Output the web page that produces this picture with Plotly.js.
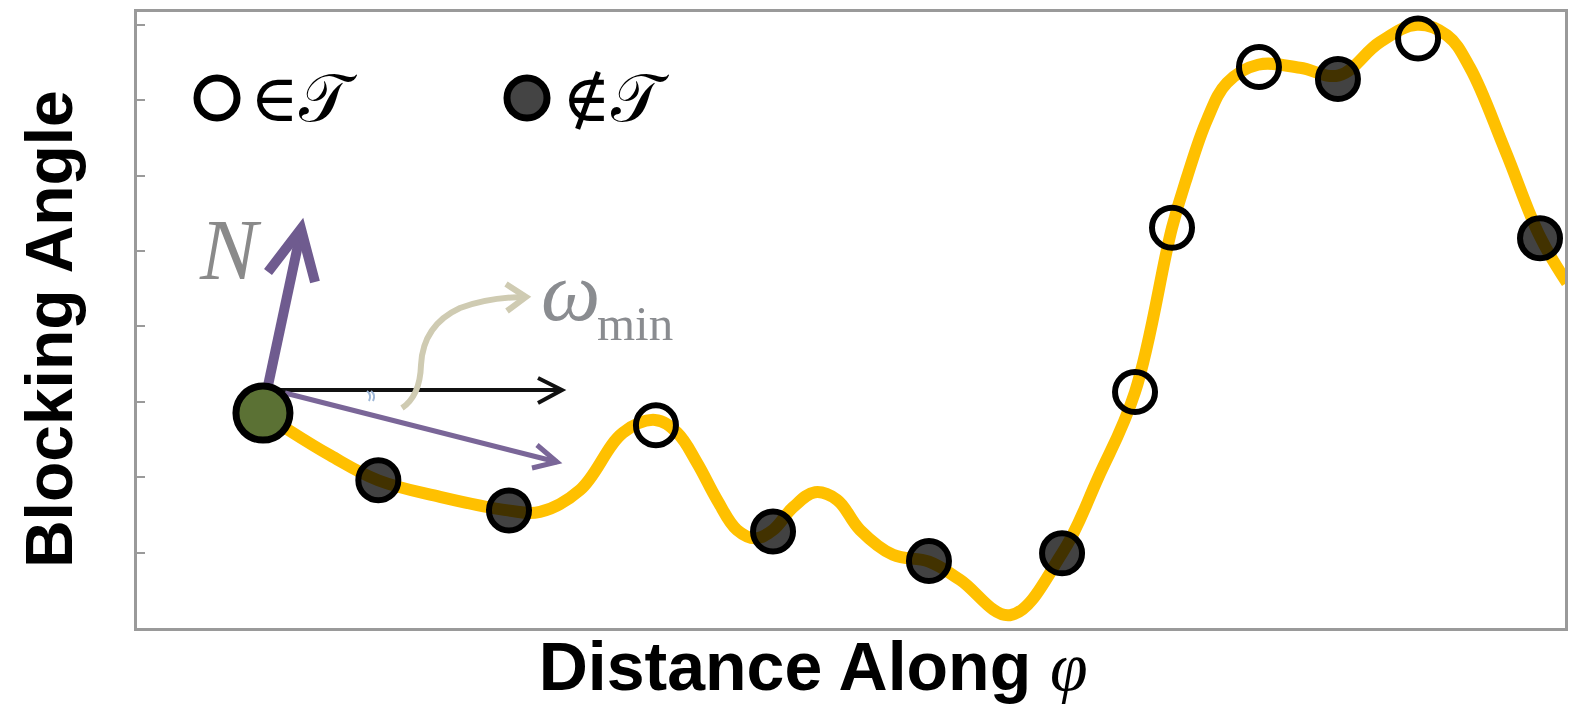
<!DOCTYPE html>
<html>
<head>
<meta charset="utf-8">
<script src="https://cdn.plot.ly/plotly-3.0.1.min.js"></script>
<style>html,body{margin:0;padding:0;background:#fff;}#chart{width:1575px;height:707px;}</style>
</head>
<body>
<div id="chart"></div>
<script>
// ---- data ----
const curveX = [8.82, 10.57, 13.52, 16.88, 21.22, 25.98, 28.22, 31.02, 34.03, 36.27, 37.82, 39.22, 40.62, 42.02, 43.28, 44.54, 45.94, 47.48, 49.02, 50.63, 52.94, 55.46, 57.63, 61.13, 64.78, 67.30, 69.89, 72.48, 73.53, 74.93, 76.33, 78.50, 81.44, 84.17, 87.04, 89.64, 91.74, 93.35, 95.80, 98.25, 100.14];
const curveY = [2.85, 2.63, 2.29, 1.96, 1.74, 1.56, 1.54, 1.83, 2.59, 2.76, 2.59, 2.19, 1.70, 1.30, 1.19, 1.30, 1.60, 1.80, 1.70, 1.30, 0.97, 0.88, 0.64, 0.17, 0.99, 1.99, 3.13, 5.31, 5.98, 6.74, 7.23, 7.47, 7.43, 7.33, 7.77, 8.00, 7.86, 7.43, 6.34, 5.19, 4.58];
const startX = [8.82];
const startY = [2.85];
const notInX = [16.9, 26.05, 44.54, 55.46, 64.78, 84.1, 98.25];
const notInY = [1.96, 1.56, 1.28, 0.89, 0.99, 7.28, 5.17];
const inX = [36.34, 69.89, 72.48, 78.57, 89.71];
const inY = [2.69, 3.13, 5.31, 7.44, 7.82];
const yTicks = [1, 2, 3, 4, 5, 6, 7, 8];
const legendIn = "∈𝒯";
const legendNotIn = "∉𝒯";
const xTitle = "Distance Along ";
const yTitle = "Blocking Angle";

// ---- layout helpers (reference pixel -> paper) ----
const L = 137, R = 1565, T = 12, B = 628;
const PX = x => (x - L) / (R - L);
const PY = y => (B - y) / (B - T);
function path(cmds) {
  return cmds.map(c => {
    if (typeof c === 'string') return c;
    return PX(c[0]).toFixed(5) + ',' + PY(c[1]).toFixed(5);
  }).join(' ');
}
function pathShape(cmds, color, width, layer) {
  return {type: 'path', xref: 'paper', yref: 'paper', path: path(cmds), line: {color: color, width: width}, layer: layer || 'below'};
}
const pad = s => '<span style="color:rgba(0,0,0,0)">' + s + '</span>';

const traces = [
  {x: curveX, y: curveY, type: 'scatter', mode: 'lines', line: {shape: 'spline', smoothing: 1.1, color: '#FFC000', width: 12}, hoverinfo: 'skip', showlegend: false},
  {x: notInX, y: notInY, type: 'scatter', mode: 'markers', marker: {symbol: 'circle', size: 40, color: 'rgba(0,0,0,0.74)', line: {color: '#000', width: 6}}, showlegend: false},
  {x: inX, y: inY, type: 'scatter', mode: 'markers', marker: {symbol: 'circle', size: 40, color: 'rgba(0,0,0,0)', line: {color: '#000', width: 6}}, showlegend: false},
  {x: startX, y: startY, type: 'scatter', mode: 'markers', marker: {symbol: 'circle', size: 54, color: '#5B7134', line: {color: '#000', width: 7}}, showlegend: false}
];

const purple = '#6F5B8F';
const shapes = [
  // N arrow
  pathShape(['M', [266, 395], 'L', [301, 231]], purple, 10),
  pathShape(['M', [268, 272], 'L', [301, 229], 'L', [315, 282]], purple, 10),
  // black horizontal arrow
  pathShape(['M', [263, 390], 'L', [562, 390]], '#111', 4),
  pathShape(['M', [538, 378], 'L', [562, 390], 'L', [538, 403]], '#111', 4),
  // purple lower arrow
  pathShape(['M', [285, 393], 'L', [557, 462]], '#7A6698', 5),
  pathShape(['M', [537, 445], 'L', [557, 462], 'L', [532, 468]], '#7A6698', 5),
  // small angle mark
  pathShape(['M', [367, 391], 'Q', [372, 395], [369, 401]], '#9DB6D6', 2),
  pathShape(['M', [371, 391], 'Q', [376, 395], [373, 401]], '#9DB6D6', 2),
  // beige curved arrow
  pathShape(['M', [402, 408], 'Q', [420, 396], [421, 365], 'Q', [423, 325], [460, 308], 'Q', [490, 297], [526, 297]], '#CFCBB2', 6),
  pathShape(['M', [506, 284], 'L', [526, 297], 'L', [507, 311]], '#CFCBB2', 6),
  // legend symbols
  {type: 'circle', xref: 'paper', yref: 'paper', xsizemode: 'pixel', ysizemode: 'pixel', xanchor: PX(217), yanchor: PY(98), x0: -20, x1: 20, y0: -20, y1: 20, line: {color: '#000', width: 7}, fillcolor: '#fff'},
  {type: 'circle', xref: 'paper', yref: 'paper', xsizemode: 'pixel', ysizemode: 'pixel', xanchor: PX(527), yanchor: PY(98), x0: -20, x1: 20, y0: -20, y1: 20, line: {color: '#000', width: 7}, fillcolor: '#444'}
];

const annotations = [
  {xref: 'paper', yref: 'paper', x: PX(248), y: PY(98), xanchor: 'left', yanchor: 'middle', showarrow: false, text: legendIn, font: {family: 'DejaVu Serif', size: 66, color: '#000'}},
  {xref: 'paper', yref: 'paper', x: PX(560), y: PY(98), xanchor: 'left', yanchor: 'middle', showarrow: false, text: legendNotIn, font: {family: 'DejaVu Serif', size: 66, color: '#000'}},
  {xref: 'paper', yref: 'paper', x: PX(230), y: PY(250), xanchor: 'center', yanchor: 'middle', showarrow: false, text: '<i>N</i>', font: {family: 'Liberation Serif', size: 86, color: '#8A8A8A'}},
  {xref: 'paper', yref: 'paper', x: PX(570), y: PY(291), xanchor: 'center', yanchor: 'middle', showarrow: false, text: '<i>ω</i>', font: {family: 'Liberation Serif', size: 84, color: '#8A8C90'}},
  {xref: 'paper', yref: 'paper', x: PX(595), y: PY(323), xanchor: 'left', yanchor: 'middle', showarrow: false, text: 'min', font: {family: 'Liberation Serif', size: 49, color: '#8A8C90'}}
];

const layout = {
  width: 1575, height: 707,
  margin: {l: L, r: 1575 - R, t: T, b: 707 - B},
  paper_bgcolor: '#fff', plot_bgcolor: '#fff',
  showlegend: false,
  xaxis: {
    range: [0, 100], showgrid: false, zeroline: false, showline: true, mirror: true,
    linecolor: '#9A9A9A', linewidth: 3, ticks: '', showticklabels: false,
    title: {text: '<b>' + xTitle + '</b><span style="font-family:\'Liberation Serif\'"><i>φ</i></span>' + pad('<b>Mi</b>'), font: {family: 'Liberation Sans', size: 68, color: '#000'}, standoff: 13}
  },
  yaxis: {
    range: [0, 8.17], showgrid: false, zeroline: false, showline: true, mirror: true,
    linecolor: '#9A9A9A', linewidth: 3, ticks: 'inside', ticklen: 8, tickwidth: 2, tickcolor: '#9A9A9A',
    tickvals: yTicks, showticklabels: false,
    title: {text: '<b>' + yTitle + '</b>' + pad('<b>i</b>'), font: {family: 'Liberation Sans', size: 66, color: '#000'}, standoff: 40}
  },
  shapes: shapes,
  annotations: annotations
};

Plotly.newPlot('chart', traces, layout, {displayModeBar: false, staticPlot: true});
</script>
</body>
</html>
